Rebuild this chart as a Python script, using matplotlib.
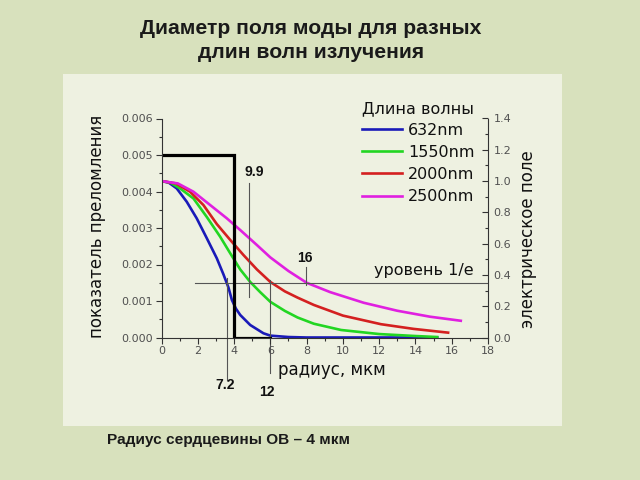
import matplotlib
matplotlib.use('Agg')
import matplotlib.pyplot as plt
from matplotlib.patches import Rectangle
from matplotlib.ticker import MultipleLocator, FormatStrFormatter

# ---------------- data ----------------
step_r = [0, 4, 4, 6]
step_n = [0.005, 0.005, 0.0, 0.0]

r_632 = [0, 0.4, 0.84, 1.39, 1.94, 2.5, 3.05, 3.41, 3.69, 3.88, 4.1, 4.34, 4.89, 5.62, 6.0, 7.0, 8.0, 15.2]
e_632 = [1.0, 0.99, 0.953, 0.868, 0.762, 0.634, 0.506, 0.405, 0.32, 0.24, 0.185, 0.144, 0.08, 0.027, 0.012, 0.003, 0.0, 0.0]

r_1550 = [0, 0.5, 1.02, 1.76, 2.5, 3.23, 3.78, 4.34, 4.89, 5.44, 6.0, 6.8, 7.5, 8.4, 9.9, 12.0, 13.9, 15.2]
e_1550 = [1.0, 0.99, 0.953, 0.889, 0.77, 0.645, 0.54, 0.435, 0.355, 0.29, 0.228, 0.17, 0.128, 0.088, 0.048, 0.022, 0.01, 0.003]

r_2000 = [0, 0.8, 1.57, 2.31, 3.05, 3.78, 4.52, 5.26, 6.0, 6.8, 7.5, 8.4, 10.0, 12.1, 13.9, 15.8]
e_2000 = [1.0, 0.985, 0.932, 0.847, 0.725, 0.625, 0.527, 0.435, 0.355, 0.295, 0.255, 0.208, 0.14, 0.085, 0.055, 0.031]

r_2500 = [0, 0.9, 1.76, 2.68, 3.6, 4.34, 5.26, 6.0, 7.0, 8.0, 9.3, 11.15, 13.0, 14.8, 16.5]
e_2500 = [1.0, 0.985, 0.932, 0.847, 0.762, 0.687, 0.591, 0.512, 0.425, 0.35, 0.29, 0.222, 0.171, 0.133, 0.107]

labels = ['632nm', '1550nm', '2000nm', '2500nm']
colors = ['#1a1ab8', '#22d622', '#d42020', '#e020e0']

level = 0.35
mfd_labels = ['7.2', '9.9', '12', '16']
mfd_radius = [3.6, 4.85, 6.0, 7.97]

# ---------------- figure ----------------
W, H = 640, 480
fig = plt.figure(figsize=(6.4, 4.8), dpi=100, facecolor='#d8e1bd')
fig.patches.append(Rectangle((63 / W, 1 - 426 / H), (562 - 63) / W, (426 - 74) / H,
                             transform=fig.transFigure, facecolor='#eef1e1',
                             edgecolor='none', zorder=-5))

ax = fig.add_axes([161.5 / W, 1 - 337.5 / H, 326.5 / W, 219 / H])
ax2 = ax.twinx()
ax.set_zorder(2)
ax2.set_zorder(1)
ax.patch.set_visible(False)
ax2.patch.set_visible(False)

ax.set_xlim(0, 18)
ax.set_ylim(0, 0.006)
ax2.set_ylim(0, 1.4)

spc = '#333333'
for s in ['top', 'right']:
    ax.spines[s].set_visible(False)
for s in ['top', 'left', 'bottom']:
    ax2.spines[s].set_visible(False)
for s in ax.spines.values():
    s.set_color(spc); s.set_linewidth(0.8)
ax2.spines['right'].set_color(spc); ax2.spines['right'].set_linewidth(0.8)

ax.xaxis.set_major_locator(MultipleLocator(2))
ax.xaxis.set_minor_locator(MultipleLocator(1))
ax.yaxis.set_major_locator(MultipleLocator(0.001))
ax.yaxis.set_minor_locator(MultipleLocator(0.0005))
ax.yaxis.set_major_formatter(FormatStrFormatter('%.3f'))
ax2.yaxis.set_major_locator(MultipleLocator(0.2))
ax2.yaxis.set_minor_locator(MultipleLocator(0.1))
ax2.yaxis.set_major_formatter(FormatStrFormatter('%.1f'))

tc = '#505050'
ax.tick_params(which='major', direction='out', length=4, width=0.8, color=spc,
               labelsize=8, labelcolor=tc, pad=2)
ax.tick_params(which='minor', direction='out', length=2.5, width=0.8, color=spc)
ax2.tick_params(which='major', direction='in', length=4, width=0.8, color=spc,
                labelsize=8, labelcolor=tc, pad=4)
ax2.tick_params(which='minor', direction='in', length=2.5, width=0.8, color=spc)

# step index profile
ax.plot(step_r, step_n, color='black', lw=2.3, solid_joinstyle='miter')

# field curves
lines = []
for r, e, lab, c in zip([r_632, r_1550, r_2000, r_2500],
                        [e_632, e_1550, e_2000, e_2500], labels, colors):
    ln, = ax2.plot(r, e, color=c, lw=1.9, label=lab, solid_joinstyle='round')
    lines.append(ln)

gc = '#555555'
ax2.plot([1.85, 18], [level, level], color=gc, lw=0.8)
# vertical markers
ax2.plot([mfd_radius[0]] * 2, [0.38, -0.27], color=gc, lw=0.8, clip_on=False)
ax2.plot([mfd_radius[1]] * 2, [0.985, 0.26], color=gc, lw=0.8, clip_on=False)
ax2.plot([mfd_radius[2]] * 2, [0.37, -0.227], color=gc, lw=0.8, clip_on=False)
ax2.plot([mfd_radius[3]] * 2, [0.45, 0.335], color=gc, lw=0.8, clip_on=False)

bf = dict(fontfamily='Liberation Sans', fontweight='bold', fontsize=10, color='#111111',
          ha='center', va='center', clip_on=False)
ax2.text(3.53, -0.303, mfd_labels[0], **bf)
ax2.text(5.13, 1.057, mfd_labels[1], **bf)
ax2.text(5.82, -0.351, mfd_labels[2], **bf)
ax2.text(7.91, 0.511, mfd_labels[3], **bf)

ax2.text(14.47, 0.43, 'уровень 1/е', fontsize=11.5, color='#111111', ha='center', va='center')

leg = ax2.legend(handles=lines, title='Длина волны', loc='upper left',
                 bbox_to_anchor=((362 - 161.5) / 326.5, (337.5 - 101) / 219),
                 frameon=False, fontsize=11.5, title_fontsize=11.5,
                 handlelength=2.5, handletextpad=0.4, labelspacing=0.44,
                 borderaxespad=0, borderpad=0, alignment='left')
for t in leg.get_texts():
    t.set_color('#111111')
leg.get_title().set_color('#111111')

# axis labels
fig.text(97 / W, 1 - 226 / H, 'показатель преломления', rotation=90, fontsize=12,
         color='#111111', ha='center', va='center')
fig.text(528 / W, 1 - 239.5 / H, 'электрическое поле', rotation=90, fontsize=12,
         color='#111111', ha='center', va='center')
fig.text(332 / W, 1 - 370 / H, 'радиус, мкм', fontsize=12,
         color='#111111', ha='center', va='center')

# titles
tf = dict(fontfamily='Liberation Sans', fontweight='bold', color='#1a1a1a', ha='center', va='center')
fig.text(311 / W, 1 - 29 / H, 'Диаметр поля моды для разных', fontsize=15.2, **tf)
fig.text(311 / W, 1 - 52 / H, 'длин волн излучения', fontsize=15.2, **tf)
fig.text(107 / W, 1 - 440 / H, 'Радиус сердцевины ОВ – 4 мкм', fontsize=11.1,
         fontfamily='Liberation Sans', fontweight='bold', color='#1a1a1a', ha='left', va='center')

fig.savefig('out.png', dpi=100, facecolor=fig.get_facecolor())
